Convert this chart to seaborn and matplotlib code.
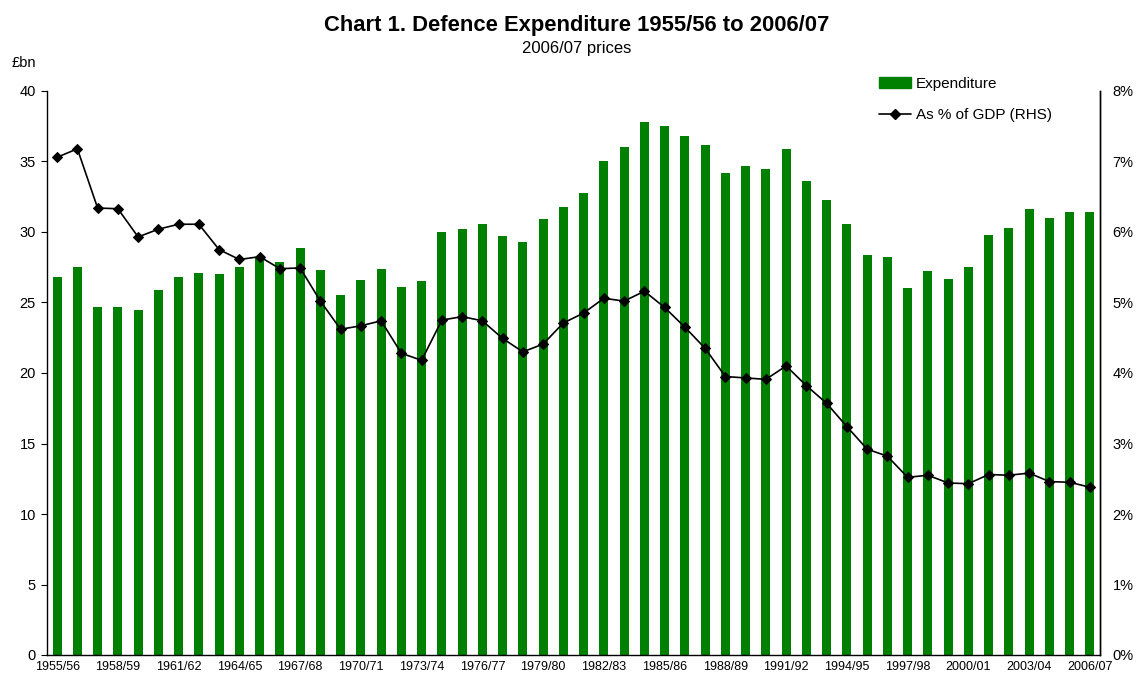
import numpy as np
import pandas as pd
import matplotlib
matplotlib.use("Agg")
import matplotlib.pyplot as plt
import seaborn as sns
from matplotlib.ticker import FuncFormatter
from matplotlib.patches import Patch
from matplotlib.lines import Line2D

years = [f"{y}/{str(y + 1)[-2:]}" for y in range(1955, 2007)]

expenditure = [26.8, 27.5, 24.7, 24.7, 24.5, 25.9, 26.8, 27.1, 27.0, 27.5,
               28.2, 27.9, 28.9, 27.3, 25.5, 26.6, 27.4, 26.1, 26.5, 30.0,
               30.2, 30.6, 29.7, 29.3, 30.9, 31.8, 32.8, 35.0, 36.0, 37.8,
               37.5, 36.8, 36.2, 34.2, 34.7, 34.5, 35.9, 33.6, 32.3, 30.6,
               28.4, 28.2, 26.0, 27.2, 26.7, 27.5, 29.8, 30.3, 31.6, 31.0,
               31.4, 31.4]

gdp_pct = [7.06, 7.18, 6.34, 6.33, 5.93, 6.04, 6.11, 6.11, 5.75, 5.61,
           5.65, 5.48, 5.49, 5.02, 4.62, 4.67, 4.74, 4.28, 4.18, 4.75,
           4.80, 4.74, 4.49, 4.30, 4.41, 4.71, 4.85, 5.06, 5.02, 5.16,
           4.93, 4.65, 4.35, 3.95, 3.93, 3.91, 4.10, 3.82, 3.57, 3.24,
           2.92, 2.82, 2.52, 2.55, 2.44, 2.43, 2.56, 2.55, 2.58, 2.46,
           2.45, 2.38]

tick_labels = years[::3]

title = "Chart 1. Defence Expenditure 1955/56 to 2006/07"
subtitle = "2006/07 prices"

df = pd.DataFrame({"year": years, "exp": expenditure, "gdp": gdp_pct})

sns.set_theme(style="white")
plt.rcParams["font.family"] = ["Liberation Sans", "DejaVu Sans"]
plt.rcParams["text.color"] = "black"
plt.rcParams["xtick.color"] = "black"
plt.rcParams["ytick.color"] = "black"

fig = plt.figure(figsize=(11.36, 6.77), dpi=100)
ax = fig.add_axes([47 / 1136, 22 / 677, 1053 / 1136, 564 / 677])

green = "#008000"
sns.barplot(data=df, x="year", y="exp", color=green, width=0.44,
            saturation=1, ax=ax, order=years, edgecolor=green, linewidth=0)
ax.set_xlim(-0.5, len(years) - 0.5)
ax.set_ylim(0, 40)
ax.set_yticks(np.arange(0, 41, 5))
ax.set_xticks(range(0, len(years), 3))
ax.set_xticklabels(tick_labels, fontsize=9)
ax.tick_params(axis="y", labelsize=10.5, length=4, width=0.8, color="black",
               labelcolor="black", left=True, pad=4)
ax.tick_params(axis="x", length=0, pad=4, labelcolor="black")
ax.set_xlabel("")
ax.set_ylabel("")
for s in ["left", "bottom", "right"]:
    ax.spines[s].set_visible(True)
    ax.spines[s].set_color("black")
    ax.spines[s].set_linewidth(1.0)
ax.spines["top"].set_visible(False)

ax2 = ax.twinx()
sns.lineplot(data=df, x="year", y="gdp", ax=ax2, color="black", marker="D",
             markersize=5.5, markeredgecolor="black", linewidth=1.2, sort=False)
ax2.set_ylim(0, 8)
ax2.set_yticks(np.arange(0, 9, 1))
ax2.yaxis.set_major_formatter(FuncFormatter(lambda v, p: f"{v:.0f}%"))
ax2.tick_params(axis="y", labelsize=10.5, length=0, pad=9, labelcolor="black")
ax2.set_ylabel("")
ax2.set_xlabel("")
ax2.spines["top"].set_visible(False)
ax2.spines["left"].set_visible(False)
ax2.spines["bottom"].set_visible(False)
ax2.spines["right"].set_color("black")
ax2.spines["right"].set_linewidth(1.0)
ax2.set_xlim(-0.5, len(years) - 0.5)

handles = [Patch(facecolor=green, edgecolor=green),
           Line2D([], [], color="black", marker="D", markersize=5, linewidth=1.2)]
fig.legend(handles, ["Expenditure", "As % of GDP (RHS)"], loc="upper left",
           bbox_to_anchor=(865 / 1136, 1 - 63 / 677), frameon=False,
           fontsize=11, handlelength=2.1, labelspacing=1.15, handletextpad=0.35)

fig.text(577 / 1136, 1 - 26 / 677, title, ha="center", va="center",
         fontsize=15.8, fontweight="bold", color="black")
fig.text(577 / 1136, 1 - 48 / 677, subtitle, ha="center", va="center",
         fontsize=12, color="black")
fig.text(12 / 1136, 1 - 63 / 677, "£bn", ha="left", va="center", fontsize=10.5,
         color="black")

fig.savefig("out.png", dpi=100)
